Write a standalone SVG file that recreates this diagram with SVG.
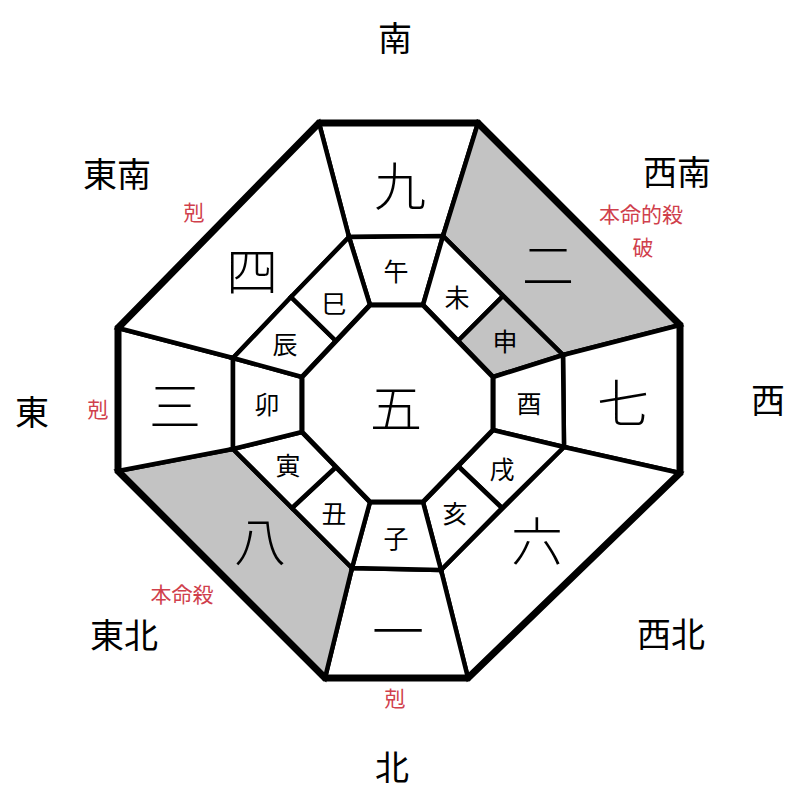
<svg xmlns="http://www.w3.org/2000/svg" width="800" height="800" viewBox="0 0 800 800">
<style>
.cell{fill:#ffffff;stroke:#000;stroke-width:4.5;stroke-linejoin:miter}
.shade{fill:#c3c3c3}
.outline{fill:none;stroke:#000;stroke-width:7;stroke-linejoin:miter}
text{font-family:"Noto Sans CJK JP","Noto Sans CJK SC",sans-serif;text-anchor:middle;dominant-baseline:central;fill:#000}
.big{font-size:52px;font-weight:300}
.br{font-size:25px}
.dir{font-size:34px}
.red{font-size:21px;fill:#d0404c}
</style>
<rect width="800" height="800" fill="#fff"/>
<g id="cell-9"><polygon class="cell" points="319,123 478,123 443,236 349,237"/><text class="big" x="400" y="183">九</text></g>
<g id="cell-2"><polygon class="cell shade" points="478,123 680,325 563,355 443,236"/><text class="big" x="548" y="262">二</text></g>
<g id="cell-7"><polygon class="cell" points="680,325 680,473 564,447 563,355"/><text class="big" x="623" y="400">七</text></g>
<g id="cell-6"><polygon class="cell" points="680,473 468,678 441,570 564,447"/><text class="big" x="537" y="538">六</text></g>
<g id="cell-1"><polygon class="cell" points="468,678 325,678 352,568 441,570"/><text class="big" x="398" y="628">一</text></g>
<g id="cell-8"><polygon class="cell shade" points="325,678 118,471 233,449 352,568"/><text class="big" x="260" y="538">八</text></g>
<g id="cell-3"><polygon class="cell" points="118,471 118,328 233,358 233,449"/><text class="big" x="175" y="403">三</text></g>
<g id="cell-4"><polygon class="cell" points="118,328 319,123 349,237 233,358"/><text class="big" x="252" y="268">四</text></g>
<g id="cell-uma"><polygon class="cell" points="349,237 443,236 423,305 370,305"/><text class="br" x="396" y="270">午</text></g>
<g id="cell-hitsuji"><polygon class="cell" points="443,236 503,296 458,341 423,305"/><text class="br" x="457" y="296">未</text></g>
<g id="cell-saru"><polygon class="cell shade" points="503,296 563,355 493,377 458,341"/><text class="br" x="505" y="340">申</text></g>
<g id="cell-tori"><polygon class="cell" points="563,355 564,447 493,430 493,377"/><text class="br" x="529" y="402">酉</text></g>
<g id="cell-inu"><polygon class="cell" points="564,447 502,508 458,466 493,430"/><text class="br" x="502" y="468">戌</text></g>
<g id="cell-i"><polygon class="cell" points="502,508 441,570 423,502 458,466"/><text class="br" x="455" y="512">亥</text></g>
<g id="cell-ne"><polygon class="cell" points="441,570 352,568 370,502 423,502"/><text class="br" x="396" y="537">子</text></g>
<g id="cell-ushi"><polygon class="cell" points="352,568 292,508 336,467 370,502"/><text class="br" x="334" y="512">丑</text></g>
<g id="cell-tora"><polygon class="cell" points="292,508 233,449 302,432 336,467"/><text class="br" x="288" y="464">寅</text></g>
<g id="cell-u"><polygon class="cell" points="233,449 233,358 302,377 302,432"/><text class="br" x="267" y="403">卯</text></g>
<g id="cell-tatsu"><polygon class="cell" points="233,358 291,297 336,341 302,377"/><text class="br" x="285" y="343">辰</text></g>
<g id="cell-mi"><polygon class="cell" points="291,297 349,237 370,305 336,341"/><text class="br" x="334" y="302">巳</text></g>
<g id="cell-5"><polygon class="cell" points="370,305 423,305 493,377 493,430 423,502 370,502 302,432 302,377" style="stroke-width:5"/><text class="big" x="396" y="405">五</text></g>
<g id="connectors"><polygon class="outline" points="319,123 478,123 680,325 680,473 468,678 325,678 118,471 118,328"/></g>
<g id="labels">
<text class="dir" x="395" y="36">南</text>
<text class="dir" x="117" y="172">東南</text>
<text class="dir" x="677" y="170">西南</text>
<text class="dir" x="32" y="410">東</text>
<text class="dir" x="768" y="398">西</text>
<text class="dir" x="124" y="633">東北</text>
<text class="dir" x="671" y="632">西北</text>
<text class="dir" x="392" y="765">北</text>
<text class="red" x="194" y="211">剋</text>
<text class="red" x="641" y="213">本命的殺</text>
<text class="red" x="643" y="246">破</text>
<text class="red" x="98" y="408">剋</text>
<text class="red" x="182" y="593">本命殺</text>
<text class="red" x="395" y="697">剋</text>
</g>
</svg>
